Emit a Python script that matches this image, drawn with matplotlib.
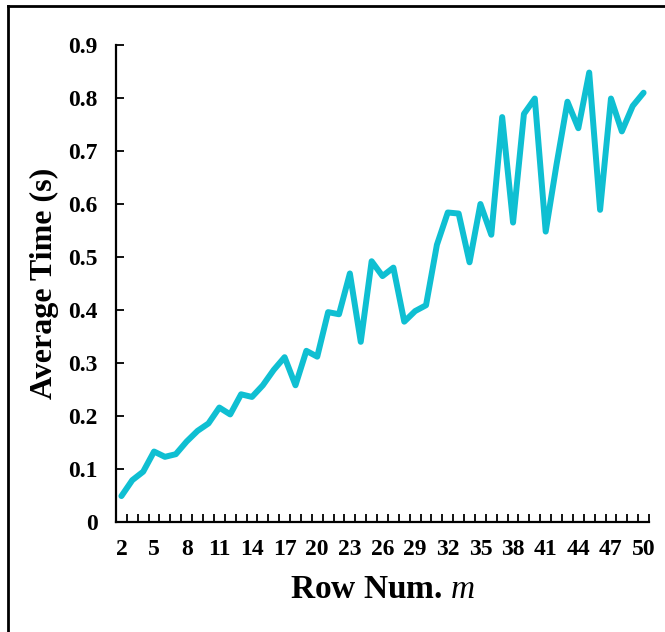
import numpy as np
import matplotlib.pyplot as plt
import matplotlib
from matplotlib.lines import Line2D

matplotlib.rcParams['font.family'] = 'serif'
matplotlib.rcParams['font.serif'] = ['Liberation Serif', 'DejaVu Serif']
matplotlib.rcParams['mathtext.fontset'] = 'custom'
matplotlib.rcParams['mathtext.it'] = 'Liberation Serif:italic'
matplotlib.rcParams['mathtext.rm'] = 'Liberation Serif'

# Data
row_num = list(range(2, 51))
avg_time = [0.049, 0.079, 0.095, 0.133, 0.123, 0.128, 0.152, 0.172, 0.186, 0.216,
            0.203, 0.241, 0.236, 0.258, 0.287, 0.311, 0.258, 0.323, 0.312, 0.396,
            0.392, 0.469, 0.340, 0.492, 0.464, 0.480, 0.378, 0.398, 0.409, 0.523,
            0.584, 0.582, 0.490, 0.600, 0.542, 0.764, 0.565, 0.770, 0.799, 0.548,
            0.675, 0.793, 0.743, 0.848, 0.589, 0.799, 0.737, 0.785, 0.810]
x_tick_labels = [str(v) for v in range(2, 51, 3)]
y_ticks = [0, 0.1, 0.2, 0.3, 0.4, 0.5, 0.6, 0.7, 0.8, 0.9]

line_color = '#0FBFD2'

fig = plt.figure(figsize=(6.65, 6.32), dpi=100)
ax = fig.add_axes([0.1744, 0.174, 0.8016, 0.7548])

# category-style x axis: each row number sits in its own slot
pos = np.arange(len(row_num))
ax.plot(pos, avg_time, color=line_color, linewidth=4.3, solid_joinstyle='round', solid_capstyle='round')

ax.set_xlim(-0.5, len(row_num) - 0.5)
ax.set_ylim(0, 0.9)

# ticks at slot boundaries, labels every third category
ax.set_xticks(np.arange(len(row_num) + 1) - 0.5)
ax.set_xticklabels([])
ax.set_xticks(pos[::3], minor=True)
ax.set_xticklabels(x_tick_labels, minor=True, fontsize=17, fontweight='bold')
ax.tick_params(axis='x', which='major', direction='in', length=6, width=1.3)
ax.tick_params(axis='x', which='minor', length=0, pad=12)

ax.set_yticks(y_ticks)
ax.set_yticklabels(['0'] + [f'{v:.1f}' for v in y_ticks[1:]], fontsize=17, fontweight='bold')
ax.tick_params(axis='y', direction='in', length=6, width=1.3, pad=13)

ax.spines['right'].set_visible(False)
ax.spines['top'].set_visible(False)
ax.spines['left'].set_linewidth(1.6)
ax.spines['bottom'].set_linewidth(1.6)

ax.set_xlabel(r'Row Num. $\mathit{m}$', fontsize=24, fontweight='bold', labelpad=10)
ax.set_ylabel('Average Time (s)', fontsize=23, fontweight='bold', labelpad=7)

# frame around the chart area (left and top edges)
fig.add_artist(Line2D([8 / 665, 8 / 665], [0, 1 - 6 / 632], color='black', linewidth=2, transform=fig.transFigure))
fig.add_artist(Line2D([8 / 665, 1], [1 - 6 / 632, 1 - 6 / 632], color='black', linewidth=2, transform=fig.transFigure))

fig.savefig('out.png', dpi=100)
